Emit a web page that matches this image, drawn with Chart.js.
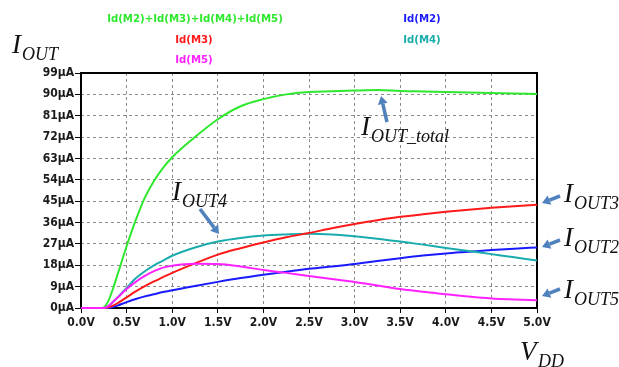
<!DOCTYPE html>
<html>
<head>
<meta charset="utf-8">
<script src="https://cdn.jsdelivr.net/npm/chart.js@4/dist/chart.umd.min.js"></script>
<style>
  html, body { margin: 0; padding: 0; background: #fff; }
  #wrap { width: 619px; height: 367px; position: relative; }
</style>
</head>
<body>
<div id="wrap"><canvas id="ivChart"></canvas></div>
<script>
// supply voltage sweep (V)
var vdd = [0, 0.2, 0.25, 0.3, 0.35, 0.4, 0.5, 0.6, 0.7, 0.8, 0.9, 1.0, 1.25, 1.5, 1.75,
           2.0, 2.25, 2.5, 2.75, 3.0, 3.25, 3.5, 3.75, 4.0, 4.25, 4.5, 4.75, 5.0];

// drain currents (uA)
var idTotal = [0, 0, 0.3, 3, 8, 14, 26, 37, 46.5, 53.5, 59, 63.5, 72, 79.5, 85,
               88, 90, 91, 91.3, 91.6, 91.8, 91.4, 91.2, 91, 90.8, 90.6, 90.4, 90.2];
var idM2 = [0, 0, 0, 0, 0.4, 1, 2.5, 3.8, 4.9, 5.8, 6.7, 7.5, 9.3, 11, 12.6,
            14, 15.3, 16.5, 17.5, 18.5, 19.8, 21, 22.1, 23, 23.7, 24.4, 25, 25.5];
var idM3 = [0, 0, 0, 0.3, 1, 2, 4.5, 7, 9.2, 11.2, 13, 14.8, 18.8, 22.5, 25.2,
            27.6, 29.8, 31.6, 33.6, 35.4, 37, 38.4, 39.5, 40.5, 41.4, 42.2, 42.9, 43.5];
var idM4 = [0, 0, 0, 0.8, 2.5, 4.5, 8.5, 12.5, 15.5, 18, 20, 22, 25.5, 28, 29.5,
            30.5, 31, 31.3, 31, 30.2, 29.2, 28, 26.7, 25.3, 24, 22.7, 21.4, 20];
var idM5 = [0, 0, 0, 0.8, 2.5, 4.3, 8, 11, 13.5, 15.5, 17, 17.8, 18.6, 18.5, 17.5,
            16, 14.8, 13.5, 12.2, 11, 9.5, 8, 6.8, 5.8, 4.8, 4, 3.6, 3.3];

var yTicks = [0, 9, 18, 27, 36, 45, 54, 63, 72, 81, 90, 99];

function pts(arr) {
    return arr.map(function (v, i) { return { x: vdd[i], y: v }; });
}

var narrow = "'Liberation Sans Narrow', 'DejaVu Sans Condensed', Arial, sans-serif";
var serif = "'Liberation Serif', 'DejaVu Serif', serif";

function drawI(ctx, x, y, sub) {
    ctx.fillStyle = '#111';
    ctx.textBaseline = 'alphabetic';
    ctx.textAlign = 'left';
    ctx.font = 'italic 27px ' + serif;
    ctx.fillText('I', x, y);
    var w = ctx.measureText('I').width;
    ctx.font = 'italic 18px ' + serif;
    ctx.fillText(sub, x + w + 1, y + 7);
}

function arrow(ctx, x1, y1, x2, y2) {
    var ang = Math.atan2(y2 - y1, x2 - x1);
    var hl = 8, hw = 5;
    var bx = x2 - hl * Math.cos(ang), by = y2 - hl * Math.sin(ang);
    ctx.strokeStyle = '#4f81bd';
    ctx.fillStyle = '#4f81bd';
    ctx.lineWidth = 3.5;
    ctx.beginPath();
    ctx.moveTo(x1, y1);
    ctx.lineTo(bx, by);
    ctx.stroke();
    ctx.beginPath();
    ctx.moveTo(x2, y2);
    ctx.lineTo(bx + hw * Math.sin(ang), by - hw * Math.cos(ang));
    ctx.lineTo(bx - hw * Math.sin(ang), by + hw * Math.cos(ang));
    ctx.closePath();
    ctx.fill();
}

var decor = {
    id: 'decor',
    beforeDatasetsDraw: function (chart) {
        // plot box under the traces so the zero-level trace sits on the axis
        var ctx = chart.ctx;
        var a = chart.chartArea;
        ctx.save();
        ctx.strokeStyle = '#000';
        ctx.lineWidth = 2;
        ctx.setLineDash([]);
        ctx.strokeRect(a.left, a.top, a.right - a.left, a.bottom - a.top);
        ctx.restore();
    },
    afterDraw: function (chart) {
        var ctx = chart.ctx;
        ctx.save();

        // trace names
        ctx.font = 'bold 11.3px ' + narrow;
        ctx.textAlign = 'center';
        ctx.textBaseline = 'middle';
        ctx.fillStyle = '#2ee82e';
        ctx.fillText('Id(M2)+Id(M3)+Id(M4)+Id(M5)', 195, 19);
        ctx.fillStyle = '#ff1a1a';
        ctx.fillText('Id(M3)', 194, 40);
        ctx.fillStyle = '#ff22ff';
        ctx.fillText('Id(M5)', 194, 60);
        ctx.fillStyle = '#1a1aff';
        ctx.fillText('Id(M2)', 422, 19);
        ctx.fillStyle = '#1aacac';
        ctx.fillText('Id(M4)', 422, 40);

        // axis names and callouts
        drawI(ctx, 12, 53, 'OUT');
        ctx.font = 'italic 27px ' + serif;
        ctx.fillStyle = '#111';
        ctx.textAlign = 'left';
        ctx.fillText('V', 520, 360);
        ctx.font = 'italic 18px ' + serif;
        ctx.fillText('DD', 538, 367);

        drawI(ctx, 172, 200, 'OUT4');
        arrow(ctx, 200, 209, 219, 234);
        drawI(ctx, 361, 135, 'OUT_total');
        arrow(ctx, 387, 122, 381, 96);
        drawI(ctx, 564, 202, 'OUT3');
        arrow(ctx, 560, 196, 542, 203);
        drawI(ctx, 564, 246, 'OUT2');
        arrow(ctx, 560, 240, 542, 247);
        drawI(ctx, 564, 298, 'OUT5');
        arrow(ctx, 560, 289, 542, 296);
        ctx.restore();
    }
};

function line(label, data, color) {
    return {
        label: label,
        data: pts(data),
        borderColor: color,
        backgroundColor: color,
        borderWidth: 2,
        pointRadius: 0,
        cubicInterpolationMode: 'monotone',
        clip: 2,
        fill: false
    };
}

new Chart(document.getElementById('ivChart'), {
    type: 'line',
    data: {
        datasets: [
            line('Id(M5)', idM5, '#ff22ff'),
            line('Id(M2)+Id(M3)+Id(M4)+Id(M5)', idTotal, '#2ee82e'),
            line('Id(M3)', idM3, '#ff1a1a'),
            line('Id(M4)', idM4, '#1aacac'),
            line('Id(M2)', idM2, '#1a1aff')
        ]
    },
    options: {
        responsive: true,
        maintainAspectRatio: false,
        animation: false,
        layout: { padding: { left: 0, right: 82, top: 73, bottom: 0 } },
        plugins: {
            legend: { display: false },
            tooltip: { enabled: false }
        },
        scales: {
            x: {
                type: 'linear',
                min: 0,
                max: 5,
                afterFit: function (s) { s.height = 59; },
                ticks: {
                    stepSize: 0.5,
                    maxRotation: 0,
                    padding: 3,
                    color: '#1a1a1a',
                    font: { family: narrow, size: 12, weight: 'bold' },
                    callback: function (v) { return v.toFixed(1) + 'V'; }
                },
                grid: {
                    color: '#8c8c8c',
                    tickColor: '#000',
                    tickLength: 5,
                    tickBorderDash: []
                },
                border: { display: false, dash: [3, 3] }
            },
            y: {
                min: 0,
                max: 99,
                afterFit: function (s) { s.width = 81; },
                afterBuildTicks: function (s) {
                    s.ticks = yTicks.map(function (v) { return { value: v }; });
                },
                ticks: {
                    padding: 1,
                    color: '#1a1a1a',
                    font: { family: narrow, size: 12, weight: 'bold' },
                    callback: function (v) { return v + 'µA'; }
                },
                grid: {
                    color: '#8c8c8c',
                    tickColor: '#000',
                    tickLength: 6,
                    tickBorderDash: []
                },
                border: { display: false, dash: [3, 3] }
            }
        }
    },
    plugins: [decor]
});
</script>
</body>
</html>
